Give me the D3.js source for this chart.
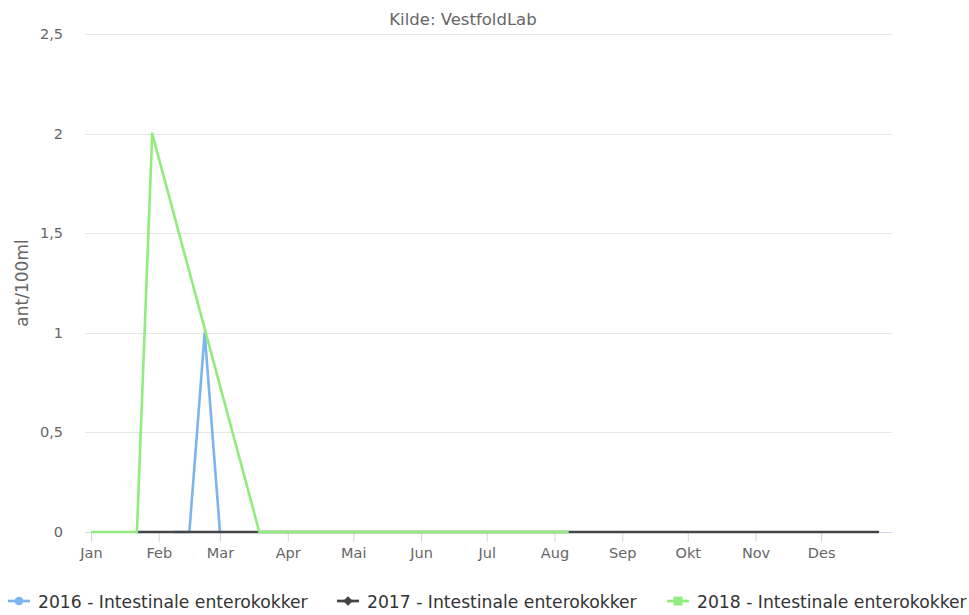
<!DOCTYPE html>
<html><head><meta charset="utf-8">
<script src="https://cdn.jsdelivr.net/npm/d3@7"></script>
<style>
html,body{margin:0;padding:0;background:#fff;}
svg{display:block;font-family:"DejaVu Sans",sans-serif;}
</style></head>
<body><svg id="c" width="969" height="615"></svg>
<script>
// ---- data ----
const monthLabels = ["Jan","Feb","Mar","Apr","Mai","Jun","Jul","Aug","Sep","Okt","Nov","Des"];
const yTicks = [0, 0.5, 1, 1.5, 2, 2.5];
const seriesNames = ["2016 - Intestinale enterokokker","2017 - Intestinale enterokokker","2018 - Intestinale enterokokker"];
const seriesColors = ["#7cb5ec","#434348","#90ed7d"];
const seriesSymbols = ["circle","diamond","square"];
const dates2016 = ["2017-02-08","2017-02-15","2017-02-22","2017-03-01"];
const values2016 = [0, 0, 1, 0];
const dates2017 = ["2017-01-22","2017-12-27"];
const values2017 = [0, 0];
const dates2018 = ["2017-01-01T12:00","2017-01-22","2017-01-29","2017-03-19","2017-08-07"];
const values2018 = [0, 0, 2, 0, 0];
const xDomain = ["2016-12-29T06:00","2018-01-02T10:00"];
const yDomain = [0, 2.5];

const parse = s => new Date(s.length > 10 ? s : s + "T00:00");
const series = [
  dates2016.map((d,i)=>({x:parse(d), y:values2016[i]})),
  dates2017.map((d,i)=>({x:parse(d), y:values2017[i]})),
  dates2018.map((d,i)=>({x:parse(d), y:values2018[i]}))
];

const svg = d3.select("#c");
const L = 85, R = 892, T = 34, B = 532;
const x = d3.scaleTime().domain(xDomain.map(parse)).range([L, R]);
const y = d3.scaleLinear().domain(yDomain).range([B, T]);

// title
svg.append("text").attr("x", 463).attr("y", 25).attr("text-anchor","middle")
  .attr("fill","#666").style("font-size","16.5px").text("Kilde: VestfoldLab");

// grid
svg.append("g").selectAll("line").data(yTicks.filter(v=>v>0)).join("line")
  .attr("x1", L).attr("x2", R).attr("y1", d=>Math.round(y(d))+0.5).attr("y2", d=>Math.round(y(d))+0.5)
  .attr("stroke","#e6e6e6").attr("stroke-width",1);

// y labels
const fmt = v => String(v).replace(".", ",");
svg.append("g").selectAll("text").data(yTicks).join("text")
  .attr("x", 63).attr("y", d=>y(d)+5).attr("text-anchor","end")
  .attr("fill","#666").style("font-size","14.5px").text(fmt);

// y title
svg.append("text").attr("transform","translate(28,283) rotate(-90)").attr("text-anchor","middle")
  .attr("fill","#666").style("font-size","17px").text("ant/100ml");

// x axis
const monthTicks = monthLabels.map((m,i)=>new Date(2017, i, 1));
const xAxis = d3.axisBottom(x).tickValues(monthTicks).tickSize(10).tickSizeOuter(0)
  .tickFormat((d,i)=>monthLabels[i]);
const gx = svg.append("g").attr("transform",`translate(0,${B})`).call(xAxis);
gx.select(".domain").attr("stroke","#ccd6eb").attr("d", `M${L},0.5H${R}`);
gx.selectAll(".tick line").attr("stroke","#ccd6eb");
gx.selectAll(".tick text").attr("fill","#666").attr("y", 16).style("font-size","14.5px").style("font-family","DejaVu Sans");

// lines
const line = d3.line().x(d=>x(d.x)).y(d=>y(d.y));
series.forEach((s,i)=>{
  svg.append("path").datum(s).attr("d", line).attr("fill","none")
    .attr("stroke", seriesColors[i]).attr("stroke-width", 2.6).attr("stroke-linejoin","round").attr("stroke-linecap","round");
});

// legend
const legendX = [8, 337, 667];
const ly = 601;
seriesNames.forEach((n,i)=>{
  const g = svg.append("g").attr("transform",`translate(${legendX[i]},${ly})`);
  g.append("line").attr("x1",0).attr("x2",22).attr("y1",0).attr("y2",0).attr("stroke",seriesColors[i]).attr("stroke-width",2.7);
  const sym = seriesSymbols[i]==="circle" ? d3.symbolCircle : seriesSymbols[i]==="diamond" ? d3.symbolDiamond2 : d3.symbolSquare;
  const size = seriesSymbols[i]==="circle" ? 60 : seriesSymbols[i]==="diamond" ? 60 : 80;
  g.append("path").attr("d", d3.symbol().type(sym).size(size)()).attr("transform","translate(11,0)").attr("fill",seriesColors[i]);
  g.append("text").attr("x",30).attr("y",6.5).attr("fill","#333").style("font-size","17.2px").text(n);
});
</script></body></html>
